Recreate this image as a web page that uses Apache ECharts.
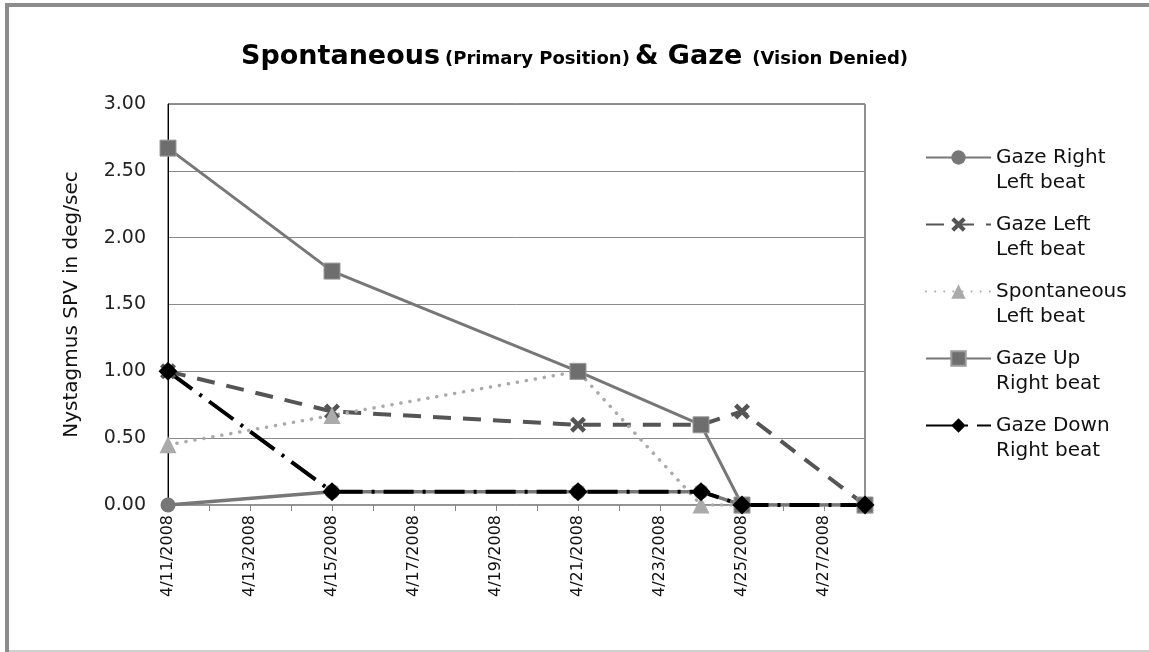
<!DOCTYPE html>
<html>
<head>
<meta charset="utf-8">
<script src="https://cdn.jsdelivr.net/npm/echarts@6/dist/echarts.min.js"></script>
<style>
  html, body { margin: 0; padding: 0; background: #fff; }
  #chart { width: 1149px; height: 652px; }
</style>
</head>
<body>
<div id="chart"></div>
<script>
// axis days 4/11 .. 4/28
const axisDays = [];
for (let d = 11; d <= 28; d++) axisDays.push('4/' + d + '/2008');

// measurement dates
const dates = ['4/11/2008', '4/15/2008', '4/21/2008', '4/24/2008', '4/25/2008', '4/28/2008'];

const gazeRight = [0, 0.1, 0.1, 0.1, 0, 0];
const gazeLeft = [1.0, 0.7, 0.6, 0.6, 0.7, 0];
const spontaneous = [0.45, 0.67, 1.0, 0, 0, 0];
const gazeUp = [2.67, 1.75, 1.0, 0.6, 0, 0];
const gazeDown = [1.0, 0.1, 0.1, 0.1, 0, 0];

const yTicks = [0, 0.5, 1, 1.5, 2, 2.5, 3];

const font = 'DejaVu Sans';
const xMark = 'path://M0,2L2,0L5,3L8,0L10,2L7,5L10,8L8,10L5,7L2,10L0,8L3,5Z';

const pairs = vals => dates.map((d, i) => [d, vals[i]]);

const myChart = echarts.init(document.getElementById('chart'));

const option = {
  animation: false,
  backgroundColor: '#fff',
  graphic: [
    { type: 'rect', shape: { x: 5, y: 3, width: 1144, height: 4 }, style: { fill: '#8c8c8c' } },
    { type: 'rect', shape: { x: 5, y: 3, width: 4, height: 649 }, style: { fill: '#8c8c8c' } },
    { type: 'rect', shape: { x: 9, y: 650, width: 1140, height: 2 }, style: { fill: '#d0d0d0' } }
  ],
  title: {
    left: 'center',
    top: 38,
    text: '{big|Spontaneous} {small|(Primary Position)} {big|& Gaze}  {small|(Vision Denied)}',
    textStyle: {
      rich: {
        big: { fontFamily: font, fontSize: 27, fontWeight: 'bold', color: '#000' },
        small: { fontFamily: font, fontSize: 18, fontWeight: 'bold', color: '#000', padding: [5, 0, 0, 0] }
      }
    }
  },
  legend: {
    orient: 'vertical',
    left: 925,
    top: 120,
    padding: 0,
    itemWidth: 65,
    itemHeight: 18,
    itemGap: -8,
    // blank first line so the icon sits beside the first text line
    formatter: name => ' \n' + name,
    textStyle: {
      fontFamily: font,
      fontSize: 20,
      lineHeight: 25,
      color: '#111'
    },
    data: ['Gaze Right\nLeft beat', 'Gaze Left\nLeft beat', 'Spontaneous\nLeft beat', 'Gaze Up\nRight beat', 'Gaze Down\nRight beat']
  },
  grid: {
    left: 168,
    right: 284,
    top: 104,
    bottom: 147,
    show: true,
    borderColor: '#222',
    borderWidth: 1
  },
  xAxis: {
    type: 'category',
    boundaryGap: false,
    data: axisDays,
    axisLine: { lineStyle: { color: '#999', width: 1 } },
    axisTick: { show: true, inside: false, length: 6, interval: 0, lineStyle: { color: '#888' } },
    axisLabel: { interval: 1, rotate: 90, margin: 10, fontFamily: font, fontSize: 16, color: '#111' },
    splitLine: { show: false }
  },
  yAxis: {
    type: 'value',
    min: yTicks[0],
    max: yTicks[yTicks.length - 1],
    interval: 0.5,
    name: 'Nystagmus SPV in deg/sec',
    nameLocation: 'middle',
    nameGap: 86,
    nameTextStyle: { fontFamily: font, fontSize: 20, color: '#111' },
    axisLine: { show: true, lineStyle: { color: '#000', width: 1 } },
    axisTick: { show: false },
    axisLabel: { margin: 22, fontFamily: font, fontSize: 19, color: '#222', formatter: v => v.toFixed(2) },
    splitLine: { lineStyle: { color: '#8a8a8a', width: 1 } }
  },
  series: [
    {
      name: 'Gaze Right\nLeft beat',
      type: 'line',
      data: pairs(gazeRight),
      symbol: 'circle',
      symbolSize: 15,
      itemStyle: { color: '#777' },
      lineStyle: { color: '#777', width: 3.5 }
    },
    {
      name: 'Gaze Left\nLeft beat',
      type: 'line',
      data: pairs(gazeLeft),
      symbol: xMark,
      symbolSize: 16,
      itemStyle: { color: '#555' },
      lineStyle: { color: '#555', width: 4, type: [18, 12] }
    },
    {
      name: 'Spontaneous\nLeft beat',
      type: 'line',
      data: pairs(spontaneous),
      symbol: 'triangle',
      symbolSize: 17,
      itemStyle: { color: '#aaa' },
      lineStyle: { color: '#aaa', width: 3.5, type: [0.1, 9], cap: 'round' }
    },
    {
      name: 'Gaze Up\nRight beat',
      type: 'line',
      data: pairs(gazeUp),
      symbol: 'rect',
      symbolSize: 16,
      itemStyle: { color: '#6e6e6e', borderColor: '#9a9a9a', borderWidth: 1 },
      lineStyle: { color: '#777', width: 3 }
    },
    {
      name: 'Gaze Down\nRight beat',
      type: 'line',
      data: pairs(gazeDown),
      symbol: 'diamond',
      symbolSize: 19,
      itemStyle: { color: '#000' },
      lineStyle: { color: '#000', width: 4, type: [30, 9, 3, 9] }
    }
  ]
};

myChart.setOption(option);

window.addEventListener('resize', () => {
  myChart.resize();
});
</script>
</body>
</html>
